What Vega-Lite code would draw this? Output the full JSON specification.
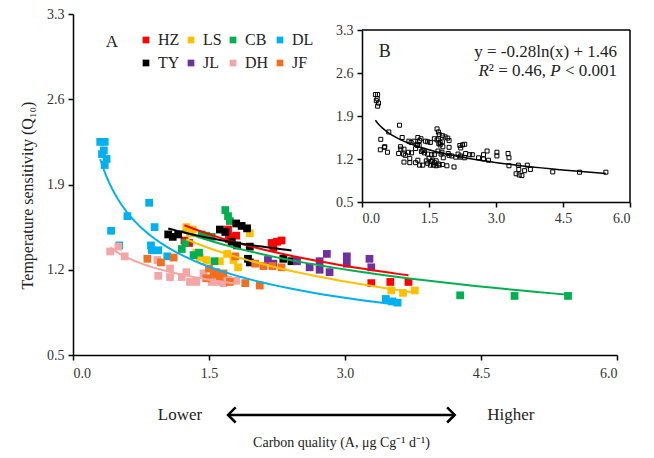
{
  "$schema": "https://vega.github.io/schema/vega-lite/v6.json",
  "width": 544,
  "height": 341,
  "autosize": {"type": "none"},
  "padding": {"left": 73, "top": 14, "right": 37, "bottom": 103},
  "background": "white",
  "config": {
    "font": "Liberation Serif",
    "view": {"stroke": null},
    "axis": {
      "domainColor": "black", "domainWidth": 1.5, "tickColor": "black", "tickWidth": 1.5, "tickSize": 5,
      "labelFont": "Liberation Serif", "labelFontSize": 14, "labelColor": "#333",
      "titleFont": "Liberation Serif", "titleFontSize": 14, "titleFontWeight": "normal", "titleColor": "#222",
      "grid": false
    }
  },
  "datasets": {
    "pts": [
      {"site": "HZ", "x": 1.23, "y": 1.44}, {"site": "HZ", "x": 1.28, "y": 1.42}, {"site": "HZ", "x": 1.71, "y": 1.53}, {"site": "HZ", "x": 1.75, "y": 1.47}, {"site": "HZ", "x": 1.80, "y": 1.48}, {"site": "HZ", "x": 1.72, "y": 1.45}, {"site": "HZ", "x": 2.19, "y": 1.42}, {"site": "HZ", "x": 2.25, "y": 1.43}, {"site": "HZ", "x": 2.30, "y": 1.44}, {"site": "HZ", "x": 2.21, "y": 1.38}, {"site": "HZ", "x": 3.29, "y": 1.09}, {"site": "HZ", "x": 3.50, "y": 1.10}, {"site": "HZ", "x": 3.70, "y": 1.10},
      {"site": "LS", "x": 1.25, "y": 1.55}, {"site": "LS", "x": 1.32, "y": 1.53}, {"site": "LS", "x": 1.29, "y": 1.50}, {"site": "LS", "x": 1.36, "y": 1.34}, {"site": "LS", "x": 1.40, "y": 1.30}, {"site": "LS", "x": 1.47, "y": 1.28}, {"site": "LS", "x": 1.62, "y": 1.27}, {"site": "LS", "x": 1.70, "y": 1.33}, {"site": "LS", "x": 1.77, "y": 1.28}, {"site": "LS", "x": 1.82, "y": 1.22}, {"site": "LS", "x": 1.95, "y": 1.50}, {"site": "LS", "x": 3.51, "y": 1.03}, {"site": "LS", "x": 3.64, "y": 1.01}, {"site": "LS", "x": 3.77, "y": 1.03},
      {"site": "CB", "x": 1.68, "y": 1.69}, {"site": "CB", "x": 1.71, "y": 1.64}, {"site": "CB", "x": 1.73, "y": 1.60}, {"site": "CB", "x": 1.42, "y": 1.49}, {"site": "CB", "x": 1.47, "y": 1.48}, {"site": "CB", "x": 1.53, "y": 1.47}, {"site": "CB", "x": 1.24, "y": 1.42}, {"site": "CB", "x": 1.20, "y": 1.37}, {"site": "CB", "x": 1.33, "y": 1.32}, {"site": "CB", "x": 1.39, "y": 1.34}, {"site": "CB", "x": 1.56, "y": 1.27}, {"site": "CB", "x": 4.27, "y": 0.99}, {"site": "CB", "x": 4.87, "y": 0.985}, {"site": "CB", "x": 5.46, "y": 0.985},
      {"site": "DL", "x": 0.30, "y": 2.25}, {"site": "DL", "x": 0.35, "y": 2.25}, {"site": "DL", "x": 0.34, "y": 2.18}, {"site": "DL", "x": 0.32, "y": 2.15}, {"site": "DL", "x": 0.37, "y": 2.11}, {"site": "DL", "x": 0.35, "y": 2.06}, {"site": "DL", "x": 0.84, "y": 1.75}, {"site": "DL", "x": 0.60, "y": 1.64}, {"site": "DL", "x": 0.42, "y": 1.52}, {"site": "DL", "x": 0.90, "y": 1.55}, {"site": "DL", "x": 0.51, "y": 1.40}, {"site": "DL", "x": 0.86, "y": 1.40}, {"site": "DL", "x": 0.87, "y": 1.36}, {"site": "DL", "x": 0.94, "y": 1.36}, {"site": "DL", "x": 1.04, "y": 1.31}, {"site": "DL", "x": 3.45, "y": 0.96}, {"site": "DL", "x": 3.52, "y": 0.94}, {"site": "DL", "x": 3.58, "y": 0.93},
      {"site": "TY", "x": 1.05, "y": 1.49}, {"site": "TY", "x": 1.10, "y": 1.47}, {"site": "TY", "x": 1.16, "y": 1.49}, {"site": "TY", "x": 1.62, "y": 1.53}, {"site": "TY", "x": 1.68, "y": 1.51}, {"site": "TY", "x": 1.80, "y": 1.58}, {"site": "TY", "x": 1.86, "y": 1.56}, {"site": "TY", "x": 1.92, "y": 1.54}, {"site": "TY", "x": 1.75, "y": 1.43}, {"site": "TY", "x": 1.81, "y": 1.40}, {"site": "TY", "x": 1.95, "y": 1.39}, {"site": "TY", "x": 1.93, "y": 1.29}, {"site": "TY", "x": 1.95, "y": 1.26}, {"site": "TY", "x": 2.32, "y": 1.29}, {"site": "TY", "x": 2.41, "y": 1.27},
      {"site": "JL", "x": 2.15, "y": 1.28}, {"site": "JL", "x": 2.21, "y": 1.25}, {"site": "JL", "x": 2.47, "y": 1.27}, {"site": "JL", "x": 2.61, "y": 1.22}, {"site": "JL", "x": 2.72, "y": 1.27}, {"site": "JL", "x": 2.80, "y": 1.33}, {"site": "JL", "x": 2.72, "y": 1.20}, {"site": "JL", "x": 2.83, "y": 1.18}, {"site": "JL", "x": 3.02, "y": 1.31}, {"site": "JL", "x": 3.02, "y": 1.25}, {"site": "JL", "x": 3.27, "y": 1.29}, {"site": "JL", "x": 3.29, "y": 1.22},
      {"site": "DH", "x": 0.41, "y": 1.35}, {"site": "DH", "x": 0.50, "y": 1.39}, {"site": "DH", "x": 0.57, "y": 1.31}, {"site": "DH", "x": 0.93, "y": 1.28}, {"site": "DH", "x": 0.94, "y": 1.15}, {"site": "DH", "x": 1.07, "y": 1.21}, {"site": "DH", "x": 1.07, "y": 1.14}, {"site": "DH", "x": 1.20, "y": 1.14}, {"site": "DH", "x": 1.25, "y": 1.18}, {"site": "DH", "x": 1.29, "y": 1.10}, {"site": "DH", "x": 1.36, "y": 1.10}, {"site": "DH", "x": 1.44, "y": 1.17}, {"site": "DH", "x": 1.53, "y": 1.10}, {"site": "DH", "x": 1.60, "y": 1.10}, {"site": "DH", "x": 1.66, "y": 1.09}, {"site": "DH", "x": 1.71, "y": 1.12}, {"site": "DH", "x": 1.80, "y": 1.11},
      {"site": "JF", "x": 0.82, "y": 1.29}, {"site": "JF", "x": 0.97, "y": 1.26}, {"site": "JF", "x": 1.11, "y": 1.30}, {"site": "JF", "x": 1.47, "y": 1.13}, {"site": "JF", "x": 1.50, "y": 1.21}, {"site": "JF", "x": 1.55, "y": 1.16}, {"site": "JF", "x": 1.58, "y": 1.18}, {"site": "JF", "x": 1.62, "y": 1.14}, {"site": "JF", "x": 1.66, "y": 1.17}, {"site": "JF", "x": 1.73, "y": 1.10}, {"site": "JF", "x": 1.79, "y": 1.31}, {"site": "JF", "x": 1.90, "y": 1.09}, {"site": "JF", "x": 2.01, "y": 1.25}, {"site": "JF", "x": 2.06, "y": 1.07}, {"site": "JF", "x": 2.10, "y": 1.23}, {"site": "JF", "x": 2.20, "y": 1.23}, {"site": "JF", "x": 2.30, "y": 1.22}
    ]
  },
  "data": {"name": "pts"},
  "layer": [
    {
      "layer": [
        {
          "mark": {"type": "square", "size": 60, "opacity": 1},
          "encoding": {
            "x": {"field": "x", "type": "quantitative", "scale": {"domain": [0, 6], "nice": false, "zero": false},
                  "axis": {"values": [0, 1.5, 3, 4.5, 6], "format": ".1f", "labelPadding": 6, "title": "Carbon quality (A, μg Cg⁻¹ d⁻¹)", "titleX": 268, "titleY": 91, "titleBaseline": "alphabetic"}},
            "y": {"field": "y", "type": "quantitative", "scale": {"domain": [0.5, 3.3], "nice": false, "zero": false},
                  "axis": {"values": [0.5, 1.2, 1.9, 2.6, 3.3], "format": ".1f", "labelPadding": 4, "title": "Temperature sensitivity (Q₁₀)", "titleFontSize": 16, "titleX": -46, "titleY": 181, "titleAngle": -90, "titleAlign": "center", "titleBaseline": "middle"}},
            "color": {"field": "site", "type": "nominal",
                      "scale": {"domain": ["HZ", "TY", "LS", "JL", "CB", "DH", "DL", "JF"],
                                "range": ["#FF0000", "#000000", "#FFC000", "#7030A0", "#00B050", "#F4A6A6", "#00B0F0", "#F26F21"]},
                      "legend": {"orient": "none", "legendX": 65, "legendY": 18, "columns": 4, "title": null, "symbolType": "square", "symbolSize": 45,
                                 "symbolStrokeWidth": 0, "symbolOpacity": 1, "labelFontSize": 16, "labelFont": "Liberation Serif", "labelColor": "#222",
                                 "columnPadding": 3, "rowPadding": 7, "labelOffset": 4}}
          }
        },
        {
          "transform": [
            {"filter": {"field": "site", "oneOf": ["DL", "DH"]}},
            {"regression": "y", "on": "x", "groupby": ["site"], "method": "pow"}
          ],
          "mark": {"type": "line", "strokeWidth": 2},
          "encoding": {
            "x": {"field": "x", "type": "quantitative"},
            "y": {"field": "y", "type": "quantitative"},
            "color": {"field": "site", "type": "nominal"}
          }
        },
        {
          "transform": [
            {"filter": {"field": "site", "oneOf": ["HZ", "LS", "CB", "TY"]}},
            {"regression": "y", "on": "x", "groupby": ["site"], "method": "log"}
          ],
          "mark": {"type": "line", "strokeWidth": 2},
          "encoding": {
            "x": {"field": "x", "type": "quantitative"},
            "y": {"field": "y", "type": "quantitative"},
            "color": {"field": "site", "type": "nominal"}
          }
        },
        {
          "data": {"values": [{}]},
          "mark": {"type": "text", "text": "A", "fontSize": 17, "font": "Liberation Serif", "color": "#222", "align": "center", "baseline": "middle"},
          "encoding": {"x": {"datum": 0.43}, "y": {"datum": 3.07}}
        },
        {
          "data": {"values": [{}]},
          "mark": {"type": "text", "text": "Lower", "fontSize": 17, "font": "Liberation Serif", "color": "#222", "align": "center", "baseline": "middle"},
          "encoding": {"x": {"datum": 1.18}, "y": {"datum": 0.008}}
        },
        {
          "data": {"values": [{}]},
          "mark": {"type": "text", "text": "Higher", "fontSize": 17, "font": "Liberation Serif", "color": "#222", "align": "center", "baseline": "middle"},
          "encoding": {"x": {"datum": 4.83}, "y": {"datum": 0.008}}
        },
        {
          "data": {"values": [{}]},
          "mark": {"type": "rule", "strokeWidth": 2.5, "color": "black"},
          "encoding": {"x": {"datum": 1.72}, "x2": {"datum": 4.2}, "y": {"datum": 0.008}}
        },
        {
          "data": {"values": [{}]},
          "mark": {"type": "point", "shape": "M1,-1L0,0L1,1", "size": 230, "filled": false, "stroke": "black", "strokeWidth": 2.5, "opacity": 1},
          "encoding": {"x": {"datum": 1.71}, "y": {"datum": 0.008}}
        },
        {
          "data": {"values": [{}]},
          "mark": {"type": "point", "shape": "M-1,-1L0,0L-1,1", "size": 230, "filled": false, "stroke": "black", "strokeWidth": 2.5, "opacity": 1},
          "encoding": {"x": {"datum": 4.21}, "y": {"datum": 0.008}}
        }
      ]
    },
    {
      "layer": [
        {
          "mark": {"type": "square", "size": 16, "filled": false, "stroke": "black", "strokeWidth": 1, "opacity": 1},
          "encoding": {
            "x": {"field": "x", "type": "quantitative", "scale": {"domain": [0, 6], "nice": false, "zero": false, "range": [289, 557]},
                  "axis": {"orient": "bottom", "offset": -153, "values": [0, 1.5, 3, 4.5, 6], "format": ".1f", "labelPadding": 4, "title": null}},
            "y": {"field": "y", "type": "quantitative", "scale": {"domain": [0.5, 3.3], "nice": false, "zero": false, "range": [188, 16]},
                  "axis": {"orient": "left", "offset": -289, "values": [0.5, 1.2, 1.9, 2.6, 3.3], "format": ".1f", "labelPadding": 4, "title": null}}
          }
        },
        {
          "transform": [{"regression": "y", "on": "x", "method": "log"}],
          "mark": {"type": "line", "strokeWidth": 1.5, "color": "black"},
          "encoding": {
            "x": {"field": "x", "type": "quantitative"},
            "y": {"field": "y", "type": "quantitative"}
          }
        },
        {
          "data": {"values": [{}]},
          "mark": {"type": "rule", "strokeWidth": 1.5, "color": "black"},
          "encoding": {"x": {"datum": 0}, "x2": {"datum": 6}, "y": {"datum": 3.3}}
        },
        {
          "data": {"values": [{}]},
          "mark": {"type": "rule", "strokeWidth": 1.5, "color": "black"},
          "encoding": {"x": {"datum": 6}, "y": {"datum": 0.5}, "y2": {"datum": 3.3}}
        },
        {
          "data": {"values": [{}]},
          "mark": {"type": "text", "text": "B", "fontSize": 18, "font": "Liberation Serif", "color": "#222", "align": "center", "baseline": "middle"},
          "encoding": {"x": {"datum": 0.51}, "y": {"datum": 2.94}}
        },
        {
          "data": {"values": [{}]},
          "mark": {"type": "text", "text": "y = -0.28ln(x) + 1.46", "fontSize": 17, "font": "Liberation Serif", "color": "#222", "align": "right", "baseline": "middle"},
          "encoding": {"x": {"datum": 5.71}, "y": {"datum": 2.94}}
        },
        {
          "data": {"values": [{}]},
          "mark": {"type": "text", "text": "R", "fontSize": 17, "fontStyle": "italic", "font": "Liberation Serif", "color": "#222", "align": "right", "baseline": "middle", "dx": -128.2},
          "encoding": {"x": {"datum": 5.71}, "y": {"datum": 2.63}}
        },
        {
          "data": {"values": [{}]},
          "mark": {"type": "text", "text": "² = 0.46,", "fontSize": 17, "font": "Liberation Serif", "color": "#222", "align": "right", "baseline": "middle", "dx": -71},
          "encoding": {"x": {"datum": 5.71}, "y": {"datum": 2.63}}
        },
        {
          "data": {"values": [{}]},
          "mark": {"type": "text", "text": "P", "fontSize": 17, "fontStyle": "italic", "font": "Liberation Serif", "color": "#222", "align": "right", "baseline": "middle", "dx": -56.3},
          "encoding": {"x": {"datum": 5.71}, "y": {"datum": 2.63}}
        },
        {
          "data": {"values": [{}]},
          "mark": {"type": "text", "text": "< 0.001", "fontSize": 17, "font": "Liberation Serif", "color": "#222", "align": "right", "baseline": "middle"},
          "encoding": {"x": {"datum": 5.71}, "y": {"datum": 2.63}}
        }
      ]
    }
  ],
  "resolve": {"scale": {"x": "independent", "y": "independent", "color": "independent"}, "axis": {"x": "independent", "y": "independent"}}
}
